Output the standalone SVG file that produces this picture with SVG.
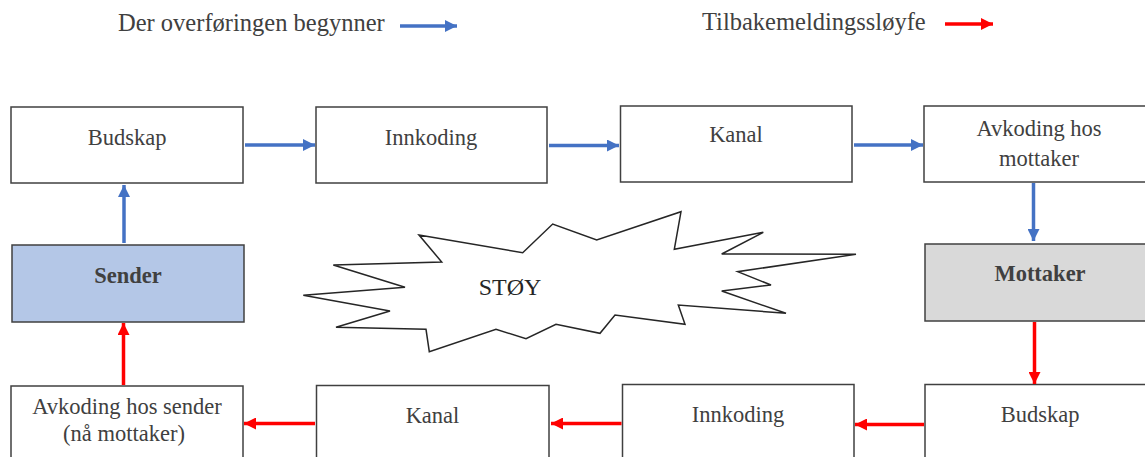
<svg xmlns="http://www.w3.org/2000/svg" width="1145" height="457" viewBox="0 0 1145 457">
  <style>
    .box { fill: #ffffff; stroke: #404040; stroke-width: 1.5; }
    .sender { fill: #b4c7e7; }
    .receiver { fill: #d9d9d9; }
    .label { font-family: "Liberation Serif", "Times New Roman", serif; font-size: 22.5px; fill: #404040; text-anchor: middle; }
    .bold { font-weight: bold; }
    .legend { font-family: "Liberation Serif", "Times New Roman", serif; font-size: 24.5px; fill: #404040; }
    .blue { stroke: #4472c4; stroke-width: 3.5; fill: none; marker-end: url(#headBlue); }
    .red { stroke: #ff0000; stroke-width: 3.5; fill: none; marker-end: url(#headRed); }
    .noise { fill: #ffffff; stroke: #262626; stroke-width: 1.5; stroke-linejoin: miter; }
  </style>
  <defs>
    <marker id="headBlue" markerUnits="userSpaceOnUse" markerWidth="13" markerHeight="12" refX="12" refY="6" orient="auto">
      <path d="M0,0 L12,6 L0,12 z" fill="#4472c4"/>
    </marker>
    <marker id="headRed" markerUnits="userSpaceOnUse" markerWidth="13" markerHeight="12" refX="12" refY="6" orient="auto">
      <path d="M0,0 L12,6 L0,12 z" fill="#ff0000"/>
    </marker>
  </defs>

  <rect width="1145" height="457" fill="#ffffff"/>

  <!-- legend -->
  <g id="legend">
    <text class="legend" x="118" y="31">Der overføringen begynner</text>
    <line class="blue" x1="400" y1="26" x2="457" y2="26"/>
    <text class="legend" x="702" y="30">Tilbakemeldingssløyfe</text>
    <line class="red" x1="945" y1="24" x2="993" y2="24"/>
  </g>

  <!-- outgoing message path -->
  <g id="budskap-top">
    <rect class="box" x="11" y="107" width="232" height="76"/>
    <text class="label" x="127" y="145">Budskap</text>
  </g>
  <g id="innkoding-top">
    <rect class="box" x="316" y="107" width="231" height="76"/>
    <text class="label" x="431" y="145">Innkoding</text>
  </g>
  <g id="kanal-top">
    <rect class="box" x="620.5" y="106" width="231.5" height="76"/>
    <text class="label" x="736" y="142">Kanal</text>
  </g>
  <g id="avkoding-mottaker">
    <rect class="box" x="924" y="106" width="230" height="76"/>
    <text class="label" x="1039" y="135.5">Avkoding hos</text>
    <text class="label" x="1039" y="166">mottaker</text>
  </g>

  <!-- endpoints -->
  <g id="sender">
    <rect class="box sender" x="12" y="245" width="232" height="77"/>
    <text class="label bold" x="128" y="283">Sender</text>
  </g>
  <g id="mottaker">
    <rect class="box receiver" x="925" y="244" width="230" height="77"/>
    <text class="label bold" x="1040" y="280.5">Mottaker</text>
  </g>

  <!-- feedback path -->
  <g id="avkoding-sender">
    <rect class="box" x="11" y="386" width="232" height="90"/>
    <text class="label" x="127" y="414">Avkoding hos sender</text>
    <text class="label" x="124" y="441">(nå mottaker)</text>
  </g>
  <g id="kanal-bottom">
    <rect class="box" x="316.5" y="385.5" width="232.5" height="90"/>
    <text class="label" x="432.5" y="422.5">Kanal</text>
  </g>
  <g id="innkoding-bottom">
    <rect class="box" x="622.5" y="384.5" width="231.5" height="90"/>
    <text class="label" x="738" y="422">Innkoding</text>
  </g>
  <g id="budskap-bottom">
    <rect class="box" x="925" y="384.5" width="230" height="90"/>
    <text class="label" x="1040" y="422">Budskap</text>
  </g>

  <!-- noise burst -->
  <g id="stoy">
    <polygon class="noise" points="419,235 522.7,252.7 552.7,224 596.7,240 681,211.7 674.3,249.3 763.3,232.3 721.7,254 856,254.3 737.7,271.7 771,285 721.7,291 786,313.3 678.3,305 685,324.3 615,315 600,333.3 556,324.3 526,338.7 496,329.3 429.3,351.7 426,329.3 336,327.3 390,311 303.3,295.3 405,287.3 333.3,265 441.7,262"/>
    <text class="label" x="510" y="294.5" style="font-size:24px; fill:#262626">STØY</text>
  </g>

  <!-- connectors -->
  <g id="connectors">
    <line class="blue" x1="245" y1="145" x2="315" y2="145"/>
    <line class="blue" x1="549" y1="145.5" x2="619" y2="145.5"/>
    <line class="blue" x1="854" y1="145" x2="923" y2="145"/>
    <line class="blue" x1="1033.5" y1="183" x2="1033.5" y2="241"/>
    <line class="blue" x1="124" y1="243" x2="124" y2="185"/>

    <line class="red" x1="1034.5" y1="322" x2="1034.5" y2="384"/>
    <line class="red" x1="924" y1="424.5" x2="855" y2="424.5"/>
    <line class="red" x1="621.5" y1="423.5" x2="551" y2="423.5"/>
    <line class="red" x1="315" y1="423.5" x2="244" y2="423.5"/>
    <line class="red" x1="123.5" y1="385" x2="123.5" y2="323"/>
  </g>
</svg>
